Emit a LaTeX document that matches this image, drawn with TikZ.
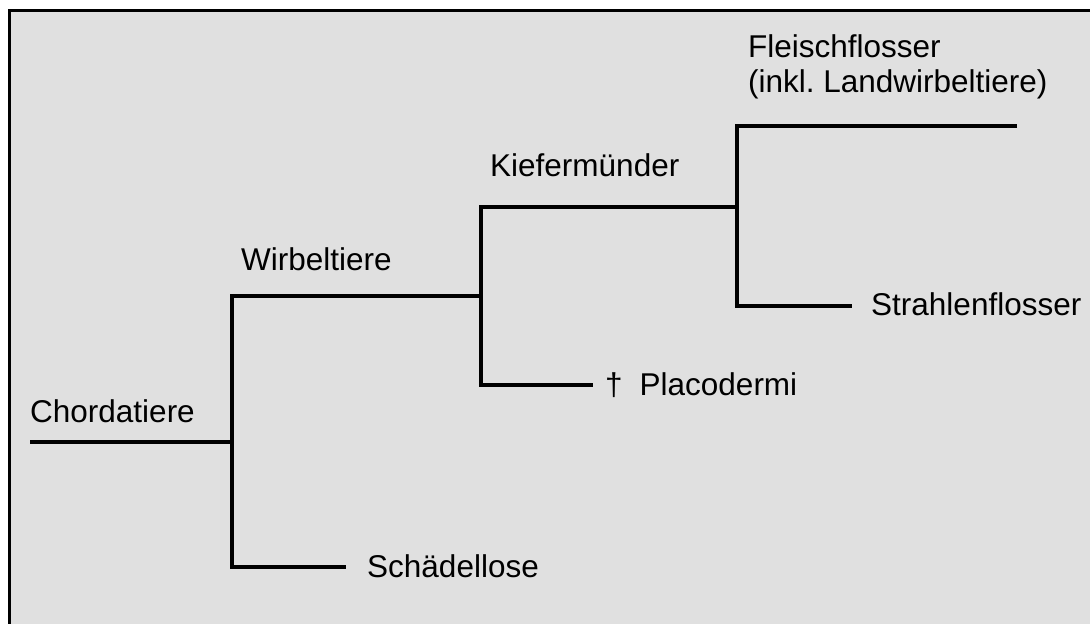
\documentclass[tikz,border=0pt]{standalone}
\usepackage{fontspec}
\setmainfont{Liberation Sans}
\frenchspacing
\definecolor{panel}{HTML}{E0E0E0}
\begin{document}
\begin{tikzpicture}[x=1pt,y=-1pt,
  branch/.style={line width=3.6pt, line join=miter},
  taxon/.style={anchor=base west, inner sep=0pt, align=left,
    font=\fontsize{31.5}{35}\selectfont}]
  % page and framed panel
  \useasboundingbox (0,0) rectangle (1090,624);
  \fill[white] (0,0) rectangle (1090,624);
  \clip (0,0) rectangle (1090,624);
  \draw[fill=panel, line width=3pt] (9,10) rectangle (1110,650);

  % branching points and branch ends
  \coordinate (root) at (30,442);
  \coordinate (n1)   at (232,442);
  \coordinate (n1t)  at (232,296);
  \coordinate (n1b)  at (232,567);
  \coordinate (n2)   at (481,296);
  \coordinate (n2t)  at (481,207);
  \coordinate (n2b)  at (481,385);
  \coordinate (n3)   at (737,207);
  \coordinate (n3t)  at (737,126);
  \coordinate (n3b)  at (737,306);
  \coordinate (sch)  at (346,567);
  \coordinate (plac) at (593,385);
  \coordinate (str)  at (852,306);
  \coordinate (fle)  at (1017,126);

  % tree
  \draw[branch] (root) -- (n1);
  \draw[branch] (n2) -- (n1t) -- (n1b) -- (sch);
  \draw[branch] (n3) -- (n2t) -- (n2b) -- (plac);
  \draw[branch] (fle) -- (n3t) -- (n3b) -- (str);

  % labels
  \node[taxon] (chordatiere) at (30,422) {Chordatiere};
  \node[taxon] (wirbeltiere) at (241,270) {Wirbeltiere};
  \node[taxon] (kiefer) at (490,176) {Kiefermünder};
  \node[taxon] (fleisch) at (748,92) {Fleischflosser\\(inkl. Landwirbeltiere)};
  \node[taxon] (strahlen) at (871,315) {Strahlenflosser};
  \node[taxon] (placodermi) at (605,395) {†\hspace{17pt}Placodermi};
  \node[taxon] (schaedel) at (367,577) {Schädellose};
\end{tikzpicture}
\end{document}
